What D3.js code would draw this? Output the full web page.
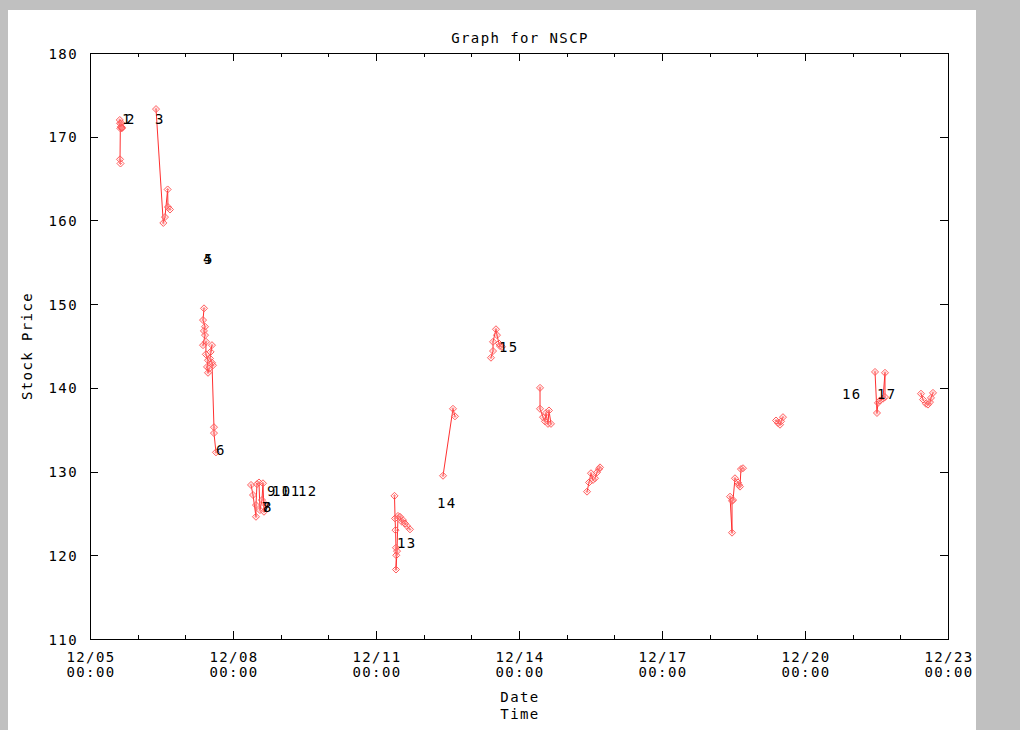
<!DOCTYPE html>
<html>
<head>
<meta charset="utf-8">
<script src="https://cdn.jsdelivr.net/npm/d3@7"></script>
<style>
  body { margin: 0; background: #c0c0c0; }
  text { font-family: "DejaVu Sans Mono", monospace; font-size: 14px; letter-spacing: 1.4px; fill: #000; }
</style>
</head>
<body>
<svg id="chart" width="1020" height="730"></svg>
<script>
// trading sessions, each point is [day of December (decimal), price]
const seg01 = [[5.625,172.0],[5.630,171.6],[5.636,171.0],[5.630,167.3],[5.640,166.8]];
const seg02 = [[5.650,171.2],[5.660,171.6],[5.668,171.0],[5.672,171.1]];
const seg03 = [[6.385,173.3],[6.538,159.7],[6.573,160.4],[6.629,163.7],[6.636,161.6],[6.678,161.3]];
const seg04 = [[7.392,149.5],[7.371,148.1],[7.413,147.3],[7.390,146.8],[7.413,146.3],[7.371,145.1],
               [7.434,145.5],[7.430,144.0],[7.476,143.3],[7.455,142.5],[7.476,141.8],[7.500,142.3]];
const seg06 = [[7.530,144.3],[7.559,145.1],[7.517,143.5],[7.580,142.7],[7.559,143.0],
               [7.601,135.3],[7.601,134.6],[7.643,132.3]];
const seg07 = [[8.378,128.4],[8.420,127.2],[8.482,124.6],[8.482,126.0],[8.503,128.5],[8.545,128.7],
               [8.566,125.4],[8.608,126.6],[8.629,128.6],[8.650,125.2],[8.692,126.0]];
const seg13 = [[11.388,127.1],[11.400,124.4],[11.410,123.0],[11.419,120.9],[11.425,120.0],[11.419,118.3],
               [11.441,120.5],[11.461,124.7],[11.503,124.6],[11.545,124.0],[11.566,124.2],
               [11.608,123.8],[11.650,123.5],[11.713,123.1]];
const seg14 = [[12.406,129.5],[12.615,137.5],[12.657,136.6]];
const seg15 = [[13.412,143.6],[13.455,144.4],[13.455,145.5],[13.517,147.0],[13.538,146.3],
               [13.580,145.3],[13.601,145.0],[13.643,144.9]];
const seg16 = [[14.441,140.0],[14.441,137.5],[14.504,136.5],[14.545,136.0],[14.566,137.0],
               [14.608,135.7],[14.629,137.3],[14.671,135.7]];
const seg17 = [[15.427,127.6],[15.469,128.7],[15.510,129.8],[15.552,129.0],[15.594,129.2],
               [15.636,129.9],[15.678,130.3],[15.699,130.5]];
const seg18 = [[18.427,127.0],[18.469,122.7],[18.469,126.5],[18.490,126.6],[18.531,129.2],
               [18.594,128.7],[18.615,128.4],[18.636,128.2],[18.657,130.3],[18.699,130.4]];
const seg19 = [[19.392,136.1],[19.434,135.8],[19.476,135.6],[19.497,136.0],[19.538,136.5]];
const seg20 = [[21.469,141.9],[21.510,137.0],[21.531,138.2],[21.573,138.5],[21.636,138.7],
               [21.678,141.8],[21.678,138.9]];
const seg21 = [[22.433,139.3],[22.475,138.6],[22.538,138.1],[22.580,138.0],[22.622,138.3],
               [22.643,138.8],[22.685,139.4]];
const segments = [seg01, seg02, seg03, seg04, seg06, seg07, seg13, seg14, seg15,
                  seg16, seg17, seg18, seg19, seg20, seg21];

// session number labels
const labelText  = ["1","2","3","4","5","6","7","8","9","10","11","12","13","14","15","16","17"];
const labelDay   = [5.671,5.755,6.364,7.371,7.392,7.643,8.608,8.629,8.713,8.818,9.007,9.364,
                    11.441,12.280,13.580,20.776,21.510];
const labelPrice = [171.5,171.5,171.5,154.8,154.8,132.0,125.2,125.2,127.1,127.1,127.1,127.1,
                    120.9,125.7,144.3,138.7,138.7];

const yTicks = [110,120,130,140,150,160,170,180];
const xMajorDays = [5,8,11,14,17,20,23];
const xMinorDays = d3.range(5, 24);

const toDate = d => new Date(new Date(2000, 11, 1).getTime() + (d - 1) * 864e5);

const svg = d3.select("#chart");
svg.append("rect").attr("x", 8).attr("y", 10).attr("width", 968).attr("height", 730).attr("fill", "#fff");

const pLeft = 90, pRight = 948, pTop = 53, pBottom = 639;
const x = d3.scaleTime().domain([toDate(5), toDate(23)]).range([pLeft, pRight]);
const y = d3.scaleLinear().domain([110, 180]).range([pBottom, pTop]);

// ticks, all pointing inward
const tickGroups = [
  [d3.axisBottom(x).tickValues(xMinorDays.map(toDate)).tickSize(-4), `translate(0,${pBottom})`],
  [d3.axisBottom(x).tickValues(xMajorDays.map(toDate)).tickSize(-8), `translate(0,${pBottom})`],
  [d3.axisTop(x).tickValues(xMinorDays.map(toDate)).tickSize(-4), `translate(0,${pTop})`],
  [d3.axisTop(x).tickValues(xMajorDays.map(toDate)).tickSize(-8), `translate(0,${pTop})`],
  [d3.axisRight(y).tickValues(yTicks).tickSize(-8), `translate(${pRight},0)`]
];
tickGroups.forEach(([ax, tr]) => {
  const g = svg.append("g").attr("transform", tr).call(ax.tickFormat(""));
  g.select(".domain").remove();
  g.selectAll("line").attr("stroke", "#000").attr("shape-rendering", "crispEdges");
});

const yAxis = svg.append("g").attr("transform", `translate(${pLeft},0)`)
  .call(d3.axisLeft(y).tickValues(yTicks).tickSize(-8).tickPadding(12));
yAxis.select(".domain").remove();
yAxis.attr("font-family", null).attr("font-size", null);
yAxis.selectAll("line").attr("stroke", "#000").attr("shape-rendering", "crispEdges");
yAxis.selectAll("text").attr("dy", "0.36em");

// x tick labels (date / time on two lines)
const xl = svg.append("g").selectAll("text").data(xMajorDays).join("text")
  .attr("text-anchor", "middle");
xl.append("tspan").attr("x", d => x(toDate(d)) + 1).attr("y", pBottom + 23)
  .text(d => d3.timeFormat("%m/%d")(toDate(d)));
xl.append("tspan").attr("x", d => x(toDate(d)) + 1).attr("y", pBottom + 38)
  .text(d => d3.timeFormat("%H:%M")(toDate(d)));

// frame
svg.append("rect").attr("x", pLeft).attr("y", pTop).attr("width", pRight - pLeft).attr("height", pBottom - pTop)
  .attr("fill", "none").attr("stroke", "#000").attr("shape-rendering", "crispEdges");

// titles
svg.append("text").attr("x", 520).attr("y", 43).attr("text-anchor", "middle").text("Graph for NSCP");
svg.append("text").attr("transform", "translate(32,346) rotate(-90)").attr("text-anchor", "middle").text("Stock Price");
svg.append("text").attr("x", 520).attr("y", 702).attr("text-anchor", "middle").text("Date");
svg.append("text").attr("x", 520).attr("y", 719).attr("text-anchor", "middle").text("Time");

// series
const line = d3.line().x(d => x(toDate(d[0]))).y(d => y(d[1]));
svg.append("g").selectAll("path").data(segments).join("path")
  .attr("d", line).attr("fill", "none").attr("stroke", "#ff3030").attr("stroke-width", 1);

const diamond = "M0,-3.5L3.5,0L0,3.5L-3.5,0Z";
const pts = svg.append("g").selectAll("g").data(segments.flat()).join("g")
  .attr("transform", d => `translate(${x(toDate(d[0]))},${y(d[1])})`);
pts.append("path").attr("d", diamond).attr("fill", "none").attr("stroke", "#ff5a5a").attr("stroke-width", 1);
pts.append("path").attr("d", "M-1.5,0H1.5M0,-1.5V1.5").attr("stroke", "#ff8080").attr("stroke-width", 1);

// labels
svg.append("g").selectAll("text").data(labelText).join("text")
  .attr("x", (d, i) => x(toDate(labelDay[i])))
  .attr("y", (d, i) => y(labelPrice[i]))
  .text(d => d);
</script>
</body>
</html>
